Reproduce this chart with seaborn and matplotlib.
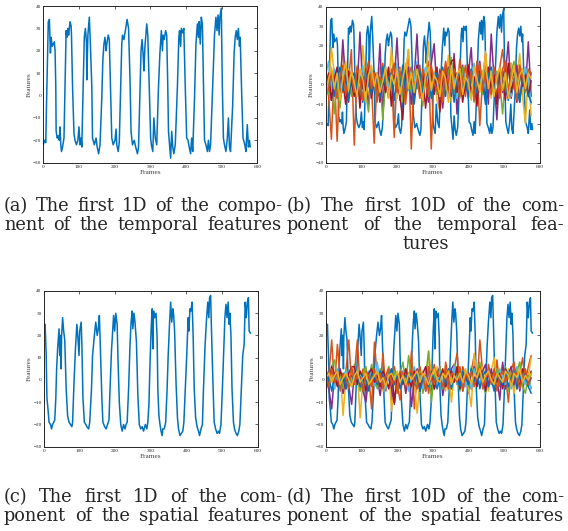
import numpy as np
import pandas as pd
import matplotlib
matplotlib.use("Agg")
import matplotlib.pyplot as plt
import seaborn as sns

# ---- data ----
# first component, temporal features (panel a, also first line of panel b)
temporal_frames = [0, 4, 7, 9, 14, 17, 20, 22, 25, 28, 31, 33, 35, 36, 39, 42, 45, 47, 49, 51, 54, 58,
                   61, 64, 66, 69, 71, 75, 78, 79, 82, 86, 89, 93, 97, 100, 103, 106, 108,
                   111, 115, 118, 121, 122, 125, 129, 132, 136, 138, 143, 148, 151, 155, 159,
                   164, 167, 170, 173, 176, 178, 182, 185, 189, 192, 196, 201, 204, 206, 210, 213,
                   217, 220, 222, 226, 230, 235, 239, 243, 246, 250, 255, 259, 264, 267,
                   271, 274, 277, 280, 282, 285, 290, 293, 296, 301, 303, 307, 310, 314, 318,
                   323, 327, 331, 334, 336, 339, 343, 346, 349, 351, 354, 357, 360, 363, 366, 370,
                   376, 380, 382, 385, 387, 391, 394, 398, 402, 406, 409, 413, 416, 419,
                   424, 428, 432, 435, 437, 440, 443, 446, 450, 452, 456, 460, 463, 466, 469,
                   475, 480, 484, 487, 490, 493, 495, 499, 502, 505, 508, 512, 516, 519, 522, 525,
                   531, 535, 538, 541, 544, 547, 550, 552, 556, 560, 565, 568, 572, 575, 578, 580]
temporal_values = [-22, -20, -21, -4, 33, 34, 19, 26, 22, 23, 24, 20, 4, -16, -19, -18, -20, -14, -22, -25, -23, -19,
                   4, 29, 26, 30, 27, 33, 31, 27, 4, -17, -20, -22, -20, -14, -22, -19, -23,
                   -1, 26, 30, 24, 7, 27, 35, 23, 4, -19, -22, -19, -23, -26, -22,
                   -1, 16, 23, 26, 20, 23, 27, 25, -1, -19, -22, -20, -15, -22, -25, -21,
                   4, 23, 27, 25, 29, 34, 30, 8, -16, -22, -20, -23, -26, -23,
                   2, 20, 25, 18, 11, 22, 32, 27, 10, -19, -22, -25, -10, -19, -22,
                   4, 19, 29, 20, 27, 25, 29, 27, 4, -16, -22, -28, -16, -23, -26, -22,
                   4, 26, 29, 22, 30, 28, 30, 4, -19, -20, -23, -26, -19, -25,
                   -1, 23, 32, 26, 33, 23, 35, 32, -1, -20, -22, -25, -20, -25, -22,
                   4, 27, 35, 29, 36, 27, 35, 39, 4, -19, -22, -25, -19, -10, -23, -25,
                   -4, 19, 26, 29, 25, 30, 22, 26, 2, -19, -22, -25, -13, -23, -20, -23]

# first component, spatial features (panel c, also first line of panel d)
spatial_frames = [0, 2, 4, 7, 9, 12, 15, 19, 22, 25, 28, 31, 34, 36, 39, 43, 45, 47, 49, 50, 53, 56, 59,
                  63, 67, 71, 75, 79, 81, 85, 89, 93, 96, 99, 101, 105, 107,
                  110, 114, 118, 121, 126, 129, 134, 137, 142, 146, 150, 153, 156, 159,
                  163, 166, 171, 175, 179, 183, 186, 190, 194, 196, 199, 202, 206, 208,
                  212, 216, 220, 224, 228, 231, 234, 238, 242, 245, 248, 250, 253, 256, 260,
                  264, 268, 272, 276, 280, 285, 289, 292, 295, 298, 301, 304, 306, 308, 311, 315, 318,
                  320, 323, 326, 329, 332, 334, 338, 342, 346, 349, 353, 356, 359, 362, 364, 367,
                  371, 375, 378, 382, 386, 390, 393, 397, 401, 405, 407, 410, 413, 416, 419,
                  422, 426, 430, 434, 437, 441, 445, 448, 452, 456, 460, 463, 465, 468, 471,
                  475, 478, 482, 486, 490, 493, 497, 501, 505, 508, 511, 514, 517, 520, 522, 525,
                  528, 532, 535, 539, 543, 547, 550, 554, 558, 562, 565, 568, 571, 574, 576, 580]
spatial_values = [26, 20, 25, 11, -8, -13, -19, -20, -22, -20, -19, -18, -8, 4, 14, 23, 11, 20, 5, 19, 28, 22, 18,
                  -4, -16, -19, -20, -21, -19, -1, 14, 25, 19, 11, 22, 26, 16,
                  -8, -19, -20, -21, -22, -19, -4, 11, 20, 26, 20, 23, 29, 14,
                  -8, -19, -21, -22, -20, -18, -4, 13, 24, 29, 22, 30, 25, 11,
                  -10, -20, -23, -20, -22, -20, -19, -4, 16, 26, 31, 23, 30, 26, 17,
                  -7, -20, -22, -21, -23, -20, -22, -19, -11, 7, 22, 32, 14, 31, 28, 30, 19,
                  -4, -16, -20, -23, -25, -22, -22, -19, -4, 11, 26, 35, 26, 32, 30, 22,
                  -1, -17, -22, -25, -24, -23, -19, -4, 11, 28, 22, 32, 31, 35, 20,
                  -4, -17, -21, -23, -25, -22, -20, -4, 14, 26, 35, 28, 37, 38, 19,
                  -4, -19, -22, -24, -23, -24, -20, -4, 14, 28, 34, 28, 35, 25, 30, 20,
                  -4, -19, -22, -24, -25, -23, -20, -4, 11, 16, 35, 28, 35, 37, 22, 21]

# components 2..10, sampled every 8 frames
FRAME_STEP = 8
temporal_rest = {
    "d2": [3, -6, -28, 8, -29, 5, -4, 10, 2, 18, -31, 6, -5, 9, -3, 7, 1, -30, 4, -6,
           11, 2, -7, 8, -27, 5, 9, -4, 3, 18, -33, 7, -2, 10, -6, 4, 12, -33, 6, -5,
           8, 1, 11, -7, 4, 9, -3, 13, 2, -6, 10, 5, -4, 12, -21, 3, 16, -5, 8, 2,
           -6, 9, 18, 4, -7, 11, 3, -5, 10, 2, 7, -4, 6],
    "d3": [2, -4, 19, 6, -7, 3, 18, -2, 8, -5, 4, 10, -3, 20, 1, -6, 7, 2, -8, 9,
           -1, 5, -4, 19, 3, -7, 8, 0, 6, 18, -5, 2, 9, -6, 4, 1, 22, -3, 7, -8,
           -13, 5, 2, 15, -9, 6, -2, 8, -4, 3, 9, -6, 4, 1, 10, -3, 17, 2, -7, 5,
           -13, 8, 3, -5, 6, 11, -2, 4, 16, -6, -20, 7, -16],
    "d4": [-3, 5, -8, 2, 7, -5, 23, 1, -9, 4, 6, -4, 27, -2, 3, -11, 8, 0, -6, 21,
           -14, 4, 7, -3, 1, 24, -8, 5, -2, 9, -10, 3, 26, -5, 6, 2, -9, 11, 21, -4,
           7, -12, 3, 9, -6, 16, -15, 4, 10, -3, 6, 19, -8, 2, 12, -5, 8, -10, 26, 3,
           -18, 9, -4, 6, 22, -7, 2, 10, -9, 5, -3, 22, -6],
    "d5": [1, -5, 6, -15, 3, -12, 4, -2, 7, -6, 2, 5, -8, 3, -4, -14, 6, 1, -7, 4,
           -18, 2, 8, -5, 3, -3, 6, -9, 1, 5, -4, 7, -2, 4, -11, 3, -6, 8, 0, -5,
           5, -8, 3, 6, 14, -4, 2, -7, 9, 1, -3, 6, -9, 4, 2, -5, 8, -2, 3, -6,
           7, 1, -15, 4, -3, 6, 12, -5, 2, 8, -4, 3, -1],
    "d6": [5, 12, -3, 8, 2, -6, 9, 4, -2, 7, -4, 6, 1, 10, -5, 3, 8, -1, 5, -7,
           4, 9, -2, 6, 0, 11, -4, 3, 7, -3, 8, 2, 12, -5, 4, 9, 1, -6, 6, 3,
           -2, 8, 5, -4, 10, 2, -7, 6, 1, 9, -3, 5, 11, -1, 4, 7, -5, 3, 9, 0,
           6, -4, 8, 2, 10, -6, 5, 1, 7, -2, 9, 3, -10],
    "d7": [-2, 6, -8, 3, 9, -5, 2, -10, 7, 1, -6, 8, -12, 4, -3, 10, -7, 2, 6, -9,
           3, -4, 9, -11, 5, 1, -6, -18, 8, -2, 4, -8, 10, -3, 6, -12, 2, 7, -5, 9,
           -14, 3, 8, -6, 12, 13, -4, 6, -9, 2, 10, -5, 4, -11, 7, 1, -7, 9, -3, 5,
           -10, 6, 2, -8, 11, -4, 3, -9, 8, -1, 5, -6, 2],
    "d8": [-4, 2, 7, -6, 1, 9, -3, 5, -8, 3, 6, -2, 4, -9, 8, 0, -5, 7, 2, -7,
           9, -1, 3, 6, -8, 4, -2, 10, -6, 1, 5, -10, 3, 7, -4, 2, 8, -7, 1, 6,
           -3, 9, -6, 2, 5, -9, 4, 7, -2, 3, -7, 8, 1, -4, 6, 2, -10, 5, 9, -3,
           4, -6, 7, 1, -8, 3, 6, -2, -9, 5, 2, -5, -9],
    "d9": [6, -3, 8, 1, -7, 4, 10, -5, 2, 7, -4, 9, 3, -8, 5, 12, -2, 6, -9, 4,
           1, 8, -6, 3, 11, -4, 7, 2, -10, 5, 9, -2, 4, -7, 8, 3, -5, 10, 1, -3,
           6, -9, 12, 2, -4, 8, 5, -6, 3, 10, -2, 7, -8, 4, 11, -3, 6, 1, -5, 9,
           3, -7, 8, 12, -4, 5, 2, -8, 10, 4, -3, 8, 6],
    "d10": [-5, 3, 9, -2, 6, -8, 4, 12, -3, 7, 1, -6, 8, 3, -9, 5, 10, -1, 6, -4,
            2, 9, -7, 5, 0, 8, -5, 3, 11, -2, 6, -4, 8, 1, -8, 4, 9, -3, 5, 2,
            -6, 7, 3, -9, 10, -2, 5, 8, -5, 4, 1, -8, 9, 3, -4, 6, 12, -2, 7, -6,
            4, 9, -3, 6, -7, 2, 10, -4, 5, 8, -2, 6, 3],
}
spatial_rest = {
    "d2": [-5, 2, 18, -3, 16, 1, -6, 4, 18, -2, 3, 18, -4, 5, -7, 2, -13, 17, 1, -3,
           12, -5, 4, 0, 6, -2, -9, 3, 5, -4, 13, -13, 2, 6, -3, 4, -6, 1, 7, -2,
           3, -5, 8, 0, -4, 5, 12, -3, 6, 2, -6, 4, 11, -2, 18, 3, -5, 7, 1, -4,
           9, -3, 6, 2, -10, 5, 8, -4, 3, 10, -2, 6, 11],
    "d3": [3, -2, 5, -4, 1, 4, -16, 2, -3, 6, -1, 3, -17, 2, 5, -4, 1, 3, -2, 4,
           -5, 2, 6, -14, 1, -3, 4, 2, -6, 3, 5, -2, -15, 1, 4, -3, 13, 2, -4, 6,
           0, 3, -5, 4, -10, 2, 6, -3, 1, 5, -4, -12, 12, 3, -2, 6, 1, -5, 4, 10,
           -3, 2, 7, -4, 5, 1, -6, 3, 8, -2, 4, 2, 10],
    "d4": [1, -4, -13, 3, -2, 5, -6, 2, -3, -11, 4, -1, 3, -5, -10, 2, 6, -3, 1, -7,
           3, -2, 5, -4, -11, 2, -1, 4, -6, 3, -12, 1, 5, -3, 2, -5, 4, 0, -4, 3,
           6, -7, 2, -3, 5, 7, -2, 4, -5, 1, 3, -4, 6, -1, 2, 4, 7, -3, 5, -2,
           1, -9, 8, -4, 3, 6, -2, 5, -5, 2, 4, -3, 1],
    "d5": [4, -2, 6, 9, -1, 3, -4, 5, 1, -3, 7, 2, -5, 3, 6, -2, 7, 1, -4, 5,
           2, -3, 6, 0, 4, -5, 3, 8, -2, 11, 1, 5, -3, 4, -6, 2, 13, -10, 3, -2,
           6, -4, 2, 5, -3, 7, 1, -5, 4, 2, -3, 6, 0, 3, 8, -2, -6, 4, 1, -4,
           5, 2, -3, 6, -5, 3, 1, 4, 8, -3, -6, 2, -4],
    "d6": [-2, 3, 1, -4, 5, -1, 2, 4, -3, 1, 6, -2, 3, 0, -5, 4, 2, -3, 8, -1,
           3, -4, 2, 5, -2, 1, -3, 4, 0, -5, 2, 6, -1, 3, -4, 2, 5, -2, 1, -3,
           4, -1, 3, -5, 2, 6, -2, 1, 4, -3, 2, -4, 5, 1, -2, 3, -5, 4, 0, 2,
           -3, 5, 1, -2, 4, -4, 2, 6, -1, 3, -2, 1, -4],
    "d7": [5, -1, 6, 2, -3, 4, 1, -4, 3, 6, 6, -2, 4, 1, -5, 3, 5, -1, 2, -3,
           4, 1, -4, 5, -10, 2, 3, -2, 5, 0, -3, 4, 1, -5, 3, 6, -2, 2, -4, 3,
           1, 5, -3, 2, 4, -1, 6, -4, 2, 3, -2, 4, 1, -3, 5, 2, -5, 3, 1, 4,
           -1, 3, -4, 5, 2, -2, 4, 1, -3, 5, 2, -2, 4],
    "d8": [-3, 1, -5, 2, 4, -2, 3, -4, 1, 2, -1, 4, -3, 2, 0, -5, 3, 1, -2, 4,
           2, -3, 1, 5, -2, 3, -4, 0, 2, -1, 4, -2, 3, -5, 1, 2, -3, 4, 0, -4,
           1, 3, -2, 5, -4, 2, 0, -3, 4, 1, -2, 5, -1, 3, -4, 2, 4, -3, 1, -5,
           3, 0, -2, 4, -3, 1, 5, -4, 2, -1, 3, -3, -6],
    "d9": [2, -3, 5, -1, 4, -5, 3, 1, -4, 6, -2, 3, 0, -5, 4, 2, -3, 5, -1, 3,
           -4, 2, 5, -2, 1, -6, 4, 3, -3, 2, 5, -1, -4, 3, 2, -5, 6, 0, -2, 4,
           1, -3, 5, -4, 3, 2, -1, 6, -5, 3, 0, 4, -3, 2, 6, -4, 1, 3, -2, 5,
           -5, 2, 4, -1, 3, -3, 6, 2, -4, 1, 5, -2, 3],
    "d10": [1, 3, -1, 2, 4, -2, 1, 3, 0, -3, 2, 4, -1, 1, 3, -2, 0, 2, 4, -1,
            1, -3, 2, 3, 0, 4, -1, 2, -2, 3, 0, 2, 4, -1, 3, 1, -2, 2, 5, 0,
            -1, 3, 1, 4, -2, 2, 0, 3, -1, 4, 2, -2, 3, 1, 5, -1, 2, 4, 0, -2,
            3, 1, -1, 4, 2, -3, 3, 1, 5, -1, 2, 0, 3],
}

series_names = ["d1", "d2", "d3", "d4", "d5", "d6", "d7", "d8", "d9", "d10"]
# MATLAB default colour order, wraps after seven lines
matlab_colors = ["#0072BD", "#D95319", "#EDB120", "#7E2F8E", "#77AC30", "#4DBEEE", "#A2142F"]
palette = {name: matlab_colors[i % 7] for i, name in enumerate(series_names)}

captions = {
    "a": ["(a) The first 1D of the compo-", "nent of the temporal features"],
    "b": ["(b) The first 10D of the com-", "ponent of the temporal fea-", "tures"],
    "c": ["(c) The first 1D of the com-", "ponent of the spatial features"],
    "d": ["(d) The first 10D of the com-", "ponent of the spatial features"],
}

W, H = 568, 531
AXIS_FONT = "Liberation Serif"
CAP_FONT = "DejaVu Serif"


def long_frame(first_x, first_y, rest=None):
    parts = [pd.DataFrame({"frame": first_x, "value": first_y, "series": "d1"})]
    if rest is not None:
        for name in series_names[1:]:
            vals = rest[name]
            parts.append(pd.DataFrame({"frame": np.arange(len(vals)) * FRAME_STEP,
                                       "value": vals, "series": name}))
    return pd.concat(parts, ignore_index=True)


def draw_panel(fig, box, df, ylim):
    left, top, right, bottom = box
    ax = fig.add_axes([left / W, 1 - bottom / H, (right - left) / W, (bottom - top) / H])
    names = list(df["series"].unique())
    sns.lineplot(data=df, x="frame", y="value", hue="series", hue_order=names,
                 palette={n: palette[n] for n in names}, estimator=None, sort=False,
                 legend=False, linewidth=1.1, ax=ax)
    ax.set_xlim(0, 600)
    ax.set_ylim(*ylim)
    ax.set_xticks(np.arange(0, 601, 100))
    ax.set_yticks(np.arange(ylim[0], ylim[1] + 1, 10))
    ax.tick_params(direction="in", length=2, width=0.5, labelsize=3.8, pad=1.5,
                   top=True, right=True, colors="#262626")
    for lab in ax.get_xticklabels() + ax.get_yticklabels():
        lab.set_fontfamily(AXIS_FONT)
    for sp in ax.spines.values():
        sp.set_linewidth(0.7)
        sp.set_color("#262626")
    ax.set_xlabel("Frames", fontsize=5.2, family=AXIS_FONT, color="#404040", labelpad=1)
    ax.set_ylabel("Features", fontsize=5.2, family=AXIS_FONT, color="#404040", labelpad=1)
    return ax


def caption(fig, lines, x0, x1, base0, step=18.8, size=12.8):
    renderer = fig.canvas.get_renderer()
    for k, line in enumerate(lines):
        y = 1 - (base0 + k * step) / H
        words = line.split(" ")
        texts = [fig.text(0, y, w, fontsize=size, family=CAP_FONT, va="baseline", ha="left")
                 for w in words]
        widths = [t.get_window_extent(renderer).width for t in texts]
        if len(words) == 1:
            texts[0].set_x(((x0 + x1) / 2 - widths[0] / 2) / W)
            continue
        gap = (x1 - x0 - sum(widths)) / (len(words) - 1)
        x = x0
        for t, w in zip(texts, widths):
            t.set_x(x / W)
            x += w + gap


sns.set_style("white")
fig = plt.figure(figsize=(W / 100, H / 100), dpi=100)

df_a = long_frame(temporal_frames, temporal_values)
df_b = long_frame(temporal_frames, temporal_values, temporal_rest)
df_c = long_frame(spatial_frames, spatial_values)
df_d = long_frame(spatial_frames, spatial_values, spatial_rest)

draw_panel(fig, (43.3, 6.0, 257.3, 162.7), df_a, (-30, 40))
draw_panel(fig, (325.7, 6.7, 539.7, 162.7), df_b, (-40, 40))
draw_panel(fig, (43.7, 291.0, 257.7, 446.7), df_c, (-30, 40))
draw_panel(fig, (326.0, 291.0, 539.7, 446.7), df_d, (-30, 40))

caption(fig, captions["a"], 4, 282, 211)
caption(fig, captions["b"], 287, 564, 211)
caption(fig, captions["c"], 4, 282, 502)
caption(fig, captions["d"], 287, 564, 502)

fig.savefig("out.png", dpi=100)
